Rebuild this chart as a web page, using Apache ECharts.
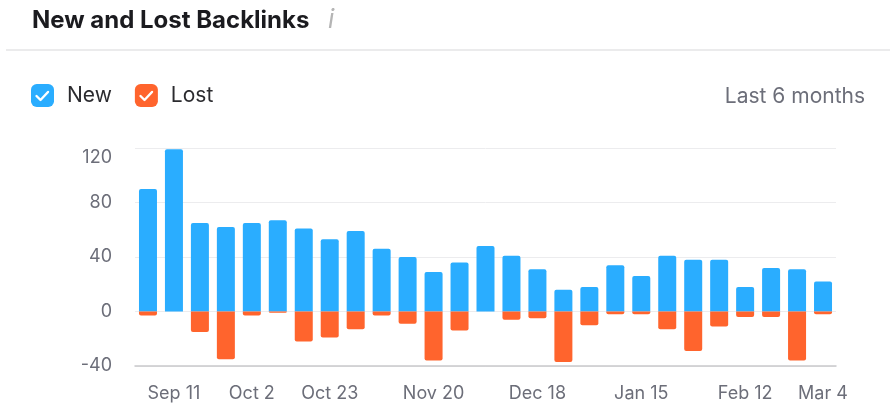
<!DOCTYPE html>
<html>
<head>
<meta charset="utf-8">
<script src="https://cdn.jsdelivr.net/npm/echarts@6/dist/echarts.min.js"></script>
<style>
  html, body { margin: 0; padding: 0; background: #fff; }
  #chart { width: 895px; height: 408px; }
</style>
</head>
<body>
<div id="chart"></div>
<script>
const weeks = ["Sep 4","Sep 11","Sep 18","Sep 25","Oct 2","Oct 9","Oct 16","Oct 23","Oct 30",
  "Nov 6","Nov 13","Nov 20","Nov 27","Dec 4","Dec 11","Dec 18","Dec 25",
  "Jan 1","Jan 8","Jan 15","Jan 22","Jan 29","Feb 5","Feb 12","Feb 19","Feb 26","Mar 4"];
const newLinks = [90,119,65,62,65,67,61,53,59,46,40,29,36,48,41,31,16,18,34,26,41,38,38,18,32,31,22];
const lostLinks = [-3,0,-15,-35,-3,-1,-22,-19,-13,-3,-9,-36,-14,0,-6,-5,-37,-10,-2,-2,-13,-29,-11,-4,-4,-36,-2];
const labeledTicks = [1,4,7,11,15,19,23,26];
const yTicks = { min: -40, max: 120, interval: 40 };

const FONT = 'Inter, "Noto Sans", sans-serif';
const check = (dx) => ({
  type: 'polyline', z: 100,
  shape: { points: [[36.5 + dx, 96], [40.5 + dx, 100], [48 + dx, 92]] },
  style: { stroke: '#fff', lineWidth: 2.4, fill: null, lineCap: 'round', lineJoin: 'round' }
});
const chart = echarts.init(document.getElementById('chart'));
chart.setOption({
  animation: false,
  textStyle: { fontFamily: FONT },
  grid: { left: 135, right: 59, top: 148, bottom: 42 },
  legend: {
    left: 31, top: 84, padding: 0,
    icon: 'roundRect',
    itemWidth: 23, itemHeight: 23,
    itemGap: 23,
    textStyle: { fontSize: 21, color: '#2b2b2f', fontFamily: FONT, padding: [0, 0, 0, 8] },
    data: ['New', 'Lost'],
    selectedMode: false
  },
  graphic: [
    { type: 'text', left: 32, top: 9, style: { text: 'New and Lost Backlinks', fontSize: 24, fontWeight: 'bold', fill: '#1b1b1f', fontFamily: FONT } },
    { type: 'text', left: 328, top: 7, style: { text: 'i', fontSize: 26, fontStyle: 'italic', fill: '#b5b5b5', fontFamily: FONT } },
    { type: 'line', shape: { x1: 6, y1: 50, x2: 890, y2: 50 }, style: { stroke: '#e4e4e6', lineWidth: 1.5 } },
    { type: 'text', right: 30, top: 86, style: { text: 'Last 6 months', fontSize: 21, fill: '#6c6e79', fontFamily: FONT } },
    check(0),
    check(104)
  ],
  xAxis: {
    type: 'category',
    data: weeks,
    axisTick: { show: false },
    axisLine: { onZero: false, lineStyle: { color: '#c9c9cc', width: 1.5 } },
    axisLabel: {
      interval: (i) => labeledTicks.includes(i),
      fontSize: 18, color: '#6c6e79', margin: 19, fontFamily: FONT
    }
  },
  yAxis: {
    type: 'value',
    min: yTicks.min, max: yTicks.max, interval: yTicks.interval,
    axisLine: { show: false },
    axisTick: { show: false },
    axisLabel: {
      fontSize: 18, color: '#6c6e79', margin: 23, fontFamily: FONT,
      formatter: (v) => v === yTicks.max ? '{top|' + v + '}' : String(v),
      rich: { top: { fontSize: 18, color: '#6c6e79', fontFamily: FONT, padding: [20, 0, 0, 0] } }
    },
    splitLine: { lineStyle: { color: '#ececee', width: 1 } }
  },
  series: [
    { name: 'New', type: 'bar', stack: 'total', data: newLinks, barWidth: 18,
      itemStyle: { color: '#2aadff', borderRadius: [2, 2, 0, 0] } },
    { name: 'Lost', type: 'bar', stack: 'total', data: lostLinks, barWidth: 18,
      itemStyle: { color: '#ff642d', borderRadius: [0, 0, 2, 2] } }
  ]
});
</script>
</body>
</html>
